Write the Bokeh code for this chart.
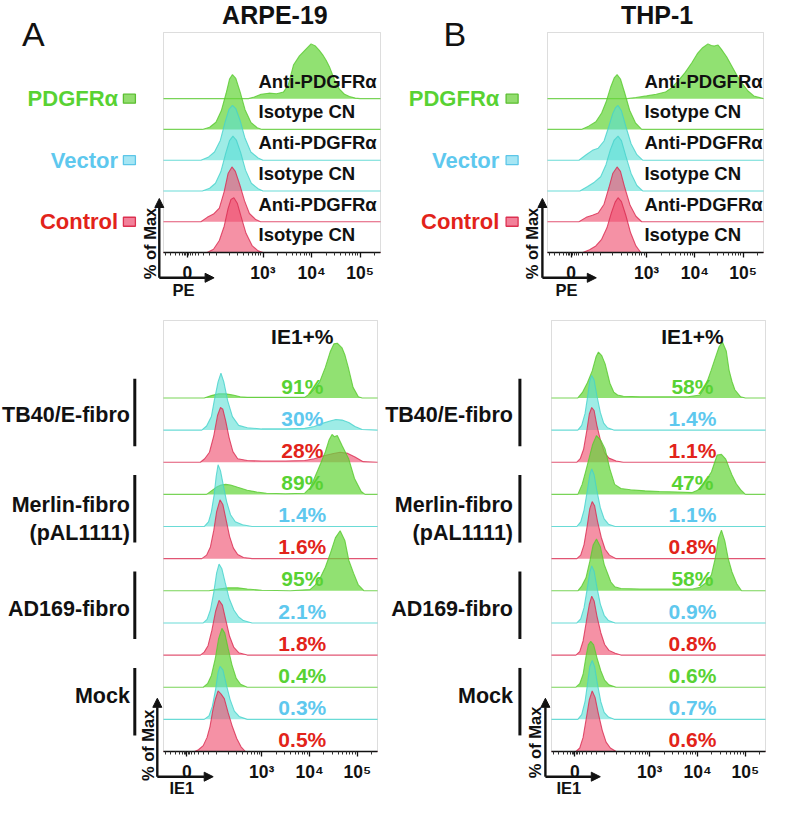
import numpy as np
from bokeh.plotting import figure
from bokeh.layouts import column, row
from bokeh.models import (ColumnDataSource, Label, Arrow, NormalHead, BoxAnnotation,
                          FixedTicker, Range1d)
from bokeh.embed import file_html
from bokeh.resources import INLINE

FONT = "Liberation Sans"

# ---------------------------------------------------------------- data
# x: position on the biexponential fluorescence axis, in decade display units
#    (10^3 -> 3, 10^4 -> 4, 10^5 -> 5, "0" -> 1.44); y: % of Max
AXIS_MIN, AXIS_MAX = 0.95, 5.42
TICK_POS = [1.44, 3.0, 4.0, 5.0]
TICK_LABELS = ["0", "10³", "10⁴", "10⁵"]

# ---- PE staining (rows from bottom to top)
PE_GROUPS = ["Control", "Vector", "PDGFRα"]
PE_STAINS = ["Isotype CN", "Anti-PDGFRα"]
PE_ROW_COLORS = ["red", "red", "cyan", "cyan", "green", "green"]

ARPE_PE_X = [
    [0.95, 1.85, 1.98, 2.10, 2.20, 2.28, 2.34, 2.40, 2.47, 2.55, 2.65, 2.78, 2.90, 3.00, 5.42],
    [0.95, 1.72, 1.85, 1.98, 2.10, 2.20, 2.28, 2.36, 2.43, 2.52, 2.62, 2.72, 2.85, 2.95, 5.42],
    [0.95, 1.75, 1.90, 2.02, 2.13, 2.23, 2.31, 2.38, 2.45, 2.54, 2.64, 2.76, 2.90, 3.00, 5.42],
    [0.95, 1.72, 1.88, 2.00, 2.12, 2.22, 2.30, 2.37, 2.44, 2.53, 2.63, 2.75, 2.90, 3.00, 5.42],
    [0.95, 1.75, 1.90, 2.03, 2.14, 2.24, 2.31, 2.37, 2.44, 2.53, 2.63, 2.75, 2.88, 2.98, 5.42],
    [0.95, 2.70, 2.82, 2.96, 3.12, 3.28, 3.42, 3.52, 3.63, 3.75, 3.88, 3.99, 4.08, 4.16, 4.23,
     4.30, 4.37, 4.47, 4.57, 4.68, 4.78, 4.90, 5.00, 5.42],
]
ARPE_PE_Y = [
    [0, 0, 6, 22, 48, 80, 97, 100, 90, 65, 35, 12, 3, 0, 0],
    [0, 0, 8, 14, 25, 55, 88, 100, 92, 68, 38, 15, 4, 0, 0],
    [0, 0, 5, 14, 35, 68, 92, 100, 93, 70, 38, 14, 4, 0, 0],
    [0, 0, 6, 15, 36, 70, 93, 100, 94, 72, 40, 15, 4, 0, 0],
    [0, 0, 4, 13, 34, 66, 92, 100, 93, 68, 36, 13, 3, 0, 0],
    [0, 0, 3, 8, 10, 9, 12, 25, 62, 78, 90, 100, 96, 88, 80, 70, 58, 35, 18, 8, 4, 1, 0, 0],
]

THP_PE_X = [
    [0.95, 1.68, 1.82, 1.95, 2.07, 2.18, 2.27, 2.35, 2.41, 2.48, 2.57, 2.67, 2.78, 2.88, 5.42],
    [0.95, 1.60, 1.75, 1.88, 2.00, 2.12, 2.22, 2.30, 2.39, 2.46, 2.55, 2.66, 2.78, 2.90, 5.42],
    [0.95, 1.62, 1.78, 1.92, 2.05, 2.16, 2.25, 2.33, 2.41, 2.48, 2.57, 2.68, 2.80, 2.92, 5.42],
    [0.95, 1.60, 1.75, 1.88, 2.00, 2.12, 2.22, 2.30, 2.36, 2.41, 2.48, 2.57, 2.68, 2.80, 2.92, 5.42],
    [0.95, 1.65, 1.80, 1.95, 2.07, 2.17, 2.26, 2.33, 2.39, 2.46, 2.55, 2.65, 2.77, 2.90, 5.42],
    [0.95, 2.60, 2.78, 3.00, 3.20, 3.39, 3.52, 3.65, 3.80, 3.94, 4.05, 4.16, 4.27, 4.34, 4.40,
     4.48, 4.55, 4.66, 4.76, 4.86, 4.96, 5.10, 5.22, 5.42],
]
THP_PE_Y = [
    [0, 0, 5, 12, 24, 45, 72, 92, 100, 93, 68, 36, 12, 0, 0],
    [0, 0, 8, 12, 16, 32, 62, 88, 100, 92, 62, 30, 10, 0, 0],
    [0, 0, 8, 16, 26, 48, 75, 93, 100, 92, 64, 32, 10, 0, 0],
    [0, 0, 10, 18, 22, 35, 62, 85, 96, 100, 90, 62, 30, 10, 0, 0],
    [0, 0, 6, 14, 30, 52, 78, 94, 100, 92, 66, 35, 12, 0, 0],
    [0, 0, 2, 5, 8, 12, 20, 32, 48, 66, 82, 93, 100, 97, 96, 98, 90, 76, 60, 44, 30, 14, 5, 0],
]

# ---- IE1 staining (rows from bottom to top: Control, Vector, PDGFRα per infection)
IE1_GROUPS = ["Mock", "AD169-fibro", "Merlin-fibro", "TB40/E-fibro"]
IE1_GROUP_SUB = ["", "", "(pAL1111)", ""]
IE1_ROW_COLORS = ["red", "cyan", "green"] * 4
ARPE_IE1_PCT = ["0.5%", "0.3%", "0.4%", "1.8%", "2.1%", "95%",
                "1.6%", "1.4%", "89%", "28%", "30%", "91%"]
THP_IE1_PCT = ["0.6%", "0.7%", "0.6%", "0.8%", "0.9%", "58%",
               "0.8%", "1.1%", "47%", "1.1%", "1.4%", "58%"]

ARPE_IE1_X = [
    [0.95, 1.60, 1.68, 1.78, 1.86, 1.92, 1.98, 2.03, 2.09, 2.15, 2.22, 2.30, 2.39, 2.48, 2.57, 2.66, 5.42],
    [0.95, 1.80, 1.90, 1.97, 2.04, 2.09, 2.13, 2.19, 2.26, 2.34, 2.43, 2.53, 2.70, 5.42],
    [0.95, 1.78, 1.87, 1.95, 2.03, 2.10, 2.17, 2.23, 2.30, 2.38, 2.47, 2.56, 2.70, 5.42],
    [0.95, 1.72, 1.80, 1.88, 1.96, 2.04, 2.11, 2.18, 2.25, 2.33, 2.42, 2.52, 2.70, 5.42],
    [0.95, 1.78, 1.86, 1.93, 2.00, 2.06, 2.11, 2.17, 2.24, 2.32, 2.42, 2.52, 2.62, 2.80, 5.42],
    [0.95, 1.90, 2.10, 2.30, 2.50, 2.70, 3.00, 3.60, 4.01, 4.12, 4.23, 4.33, 4.44, 4.54, 4.64,
     4.74, 4.82, 4.92, 5.02, 5.14, 5.42],
    [0.95, 1.75, 1.85, 1.93, 2.00, 2.06, 2.13, 2.19, 2.26, 2.33, 2.41, 2.50, 2.62, 2.80, 5.42],
    [0.95, 1.80, 1.89, 1.95, 2.01, 2.05, 2.09, 2.14, 2.20, 2.27, 2.35, 2.45, 2.60, 2.80, 5.42],
    [0.95, 1.85, 1.95, 2.05, 2.15, 2.25, 2.35, 2.50, 2.70, 2.90, 3.10, 3.50, 3.90, 4.02, 4.13,
     4.23, 4.33, 4.41, 4.47, 4.52, 4.58, 4.68, 4.82, 4.94, 5.08, 5.16, 5.42],
    [0.95, 1.72, 1.81, 1.91, 2.00, 2.08, 2.14, 2.19, 2.25, 2.32, 2.40, 2.50, 2.70, 3.00, 3.50,
     3.90, 4.10, 4.30, 4.50, 4.64, 4.80, 4.95, 5.12, 5.42],
    [0.95, 1.75, 1.85, 1.95, 2.01, 2.09, 2.15, 2.21, 2.29, 2.39, 2.52, 2.70, 3.00, 3.50, 3.90,
     4.10, 4.25, 4.41, 4.55, 4.68, 4.82, 4.95, 5.10, 5.42],
    [0.95, 1.80, 1.95, 2.10, 2.25, 2.40, 2.55, 2.70, 3.90, 4.00, 4.10, 4.21, 4.33, 4.43, 4.51,
     4.58, 4.68, 4.74, 4.81, 4.91, 5.02, 5.10, 5.42],
]
ARPE_IE1_Y = [
    [0, 0, 3, 10, 24, 42, 70, 88, 103, 98, 90, 66, 42, 22, 8, 0, 0],
    [0, 0, 6, 22, 52, 80, 90, 84, 60, 34, 14, 5, 0, 0],
    [0, 0, 6, 20, 48, 82, 100, 92, 66, 38, 15, 5, 0, 0],
    [0, 0, 5, 16, 42, 75, 93, 85, 60, 32, 13, 4, 0, 0],
    [0, 0, 6, 22, 52, 85, 100, 92, 68, 42, 22, 10, 4, 0, 0],
    [0, 0, 3, 5, 5, 3, 1, 0, 2, 10, 23, 40, 65, 90, 102, 85, 52, 30, 10, 0, 0],
    [0, 0, 6, 20, 48, 80, 100, 92, 65, 38, 18, 7, 2, 0, 0],
    [0, 0, 8, 25, 55, 85, 105, 95, 70, 42, 20, 8, 3, 0, 0],
    [0, 0, 6, 12, 16, 17, 16, 12, 7, 4, 2, 1, 2, 12, 33, 52, 72, 93, 102, 98, 100, 83, 60, 27, 5, 0, 0],
    [0, 0, 6, 17, 45, 80, 93, 90, 70, 42, 18, 6, 3, 2, 2, 3, 6, 11, 15, 17, 15, 9, 1, 0],
    [0, 0, 7, 23, 50, 82, 97, 82, 50, 23, 8, 4, 2, 2, 3, 6, 11, 15, 18, 17, 13, 6, 1, 0],
    [0, 0, 4, 7, 7, 5, 2, 1, 1, 7, 15, 27, 52, 78, 92, 93, 85, 73, 52, 18, 2, 0, 0],
]

THP_IE1_X = [
    [0.95, 1.46, 1.54, 1.61, 1.68, 1.74, 1.80, 1.86, 1.93, 2.01, 2.09, 2.18, 2.30, 5.42],
    [0.95, 1.50, 1.58, 1.65, 1.71, 1.75, 1.80, 1.85, 1.91, 1.98, 2.05, 2.14, 2.26, 5.42],
    [0.95, 1.46, 1.54, 1.61, 1.67, 1.72, 1.77, 1.83, 1.90, 1.98, 2.06, 2.15, 2.30, 5.42],
    [0.95, 1.46, 1.54, 1.61, 1.68, 1.74, 1.79, 1.84, 1.90, 1.98, 2.06, 2.15, 2.28, 2.40, 5.42],
    [0.95, 1.48, 1.56, 1.63, 1.70, 1.75, 1.79, 1.84, 1.90, 1.97, 2.05, 2.14, 2.28, 5.42],
    [0.95, 1.50, 1.58, 1.67, 1.75, 1.82, 1.89, 1.97, 2.05, 2.19, 2.27, 2.40, 2.80, 3.40, 3.90,
     4.05, 4.18, 4.29, 4.37, 4.44, 4.50, 4.57, 4.64, 4.72, 4.82, 4.92, 5.42],
    [0.95, 1.48, 1.56, 1.63, 1.70, 1.75, 1.80, 1.85, 1.91, 1.99, 2.07, 2.16, 2.30, 5.42],
    [0.95, 1.48, 1.56, 1.63, 1.70, 1.75, 1.79, 1.84, 1.90, 1.97, 2.05, 2.14, 2.28, 5.42],
    [0.95, 1.50, 1.59, 1.66, 1.73, 1.81, 1.89, 1.98, 2.07, 2.17, 2.27, 2.40, 2.60, 2.90, 3.20,
     3.60, 3.89, 4.00, 4.11, 4.20, 4.29, 4.41, 4.50, 4.59, 4.66, 4.72, 4.81, 4.90, 5.00, 5.42],
    [0.95, 1.48, 1.55, 1.62, 1.69, 1.74, 1.79, 1.84, 1.90, 1.98, 2.06, 2.15, 2.30, 2.45, 5.42],
    [0.95, 1.50, 1.58, 1.65, 1.71, 1.75, 1.79, 1.84, 1.90, 1.97, 2.04, 2.12, 2.25, 5.42],
    [0.95, 1.50, 1.60, 1.70, 1.80, 1.88, 1.93, 2.00, 2.07, 2.17, 2.25, 2.33, 2.45, 2.80, 3.30,
     3.80, 4.05, 4.13, 4.21, 4.28, 4.35, 4.45, 4.52, 4.60, 4.66, 4.72, 4.78, 4.90, 5.00, 5.42],
]
THP_IE1_Y = [
    [0, 0, 6, 24, 58, 88, 103, 92, 64, 36, 16, 6, 0, 0],
    [0, 0, 8, 30, 65, 90, 100, 90, 60, 30, 12, 4, 0, 0],
    [0, 0, 6, 22, 52, 72, 78, 72, 50, 28, 12, 4, 0, 0],
    [0, 0, 6, 24, 58, 86, 100, 92, 66, 38, 18, 8, 3, 0, 0],
    [0, 0, 7, 26, 60, 86, 97, 88, 60, 32, 13, 4, 0, 0],
    [0, 0, 8, 22, 50, 78, 88, 75, 45, 15, 7, 4, 3, 3, 3, 6, 14, 27, 55, 90, 103, 85, 55, 32, 12, 0, 0],
    [0, 0, 6, 24, 58, 85, 97, 90, 64, 36, 16, 6, 0, 0],
    [0, 0, 8, 28, 62, 88, 98, 88, 60, 32, 13, 4, 0, 0],
    [0, 0, 17, 38, 60, 85, 100, 92, 77, 43, 17, 10, 8, 6, 5, 4, 3, 7, 17, 27, 38, 67, 68, 60, 45, 33,
     18, 8, 0, 0],
    [0, 0, 6, 22, 55, 82, 93, 88, 62, 35, 16, 7, 2, 0, 0],
    [0, 0, 8, 28, 60, 84, 93, 85, 58, 30, 12, 4, 0, 0],
    [0, 0, 10, 26, 46, 70, 78, 72, 58, 25, 10, 5, 3, 2, 2, 2, 5, 15, 30, 46, 63, 87, 95, 80, 47, 28,
     14, 2, 0, 0],
]

# ---------------------------------------------------------------- style
COL = {
    "green": dict(fill="#66d63c", line="#57c92e", text="#58d233", sq_fill="#93dd6f", sq_line="#5bbf30"),
    "cyan": dict(fill="#58ded4", line="#45d2cc", text="#5ec8ee", sq_fill="#a6e6f4", sq_line="#5cc6e8"),
    "red": dict(fill="#ef4d6e", line="#d92a50", text="#e2231a", sq_fill="#f2819a", sq_line="#dc3050"),
}
FILL_ALPHA = {"green": 0.72, "cyan": 0.58, "red": 0.62}

MINOR = sorted([1.0, 1.1, 1.2, 1.28, 1.34, 1.38, 1.41, 1.47, 1.5, 1.54, 1.6, 1.68, 1.78, 1.9, 2.05]
               + [float(np.log10(k * 10.0 ** n)) for n in (2, 3, 4) for k in range(2, 10)]
               + [float(np.log10(2e5))])


def base_fig(W, H, L, R, T, B, row_px):
    ytop = (B - T) / row_px
    sx = (AXIS_MAX - AXIS_MIN) / (R - L)
    sy = ytop / (B - T)
    p = figure(width=W, height=H,
               x_range=Range1d(AXIS_MIN - L * sx, AXIS_MAX + (W - R) * sx),
               y_range=Range1d(-(H - B) * sy, ytop + T * sy),
               output_backend="svg", toolbar_location=None, min_border=0,
               y_axis_location=None, x_axis_location="below")
    p.outline_line_color = None
    p.grid.visible = False
    p.background_fill_color = "white"
    p.border_fill_color = "white"
    ax = p.xaxis[0]
    ax.fixed_location = 0
    ax.bounds = (AXIS_MIN, AXIS_MAX)
    ax.ticker = FixedTicker(ticks=TICK_POS, minor_ticks=MINOR)
    ax.major_label_overrides = {t: s for t, s in zip(TICK_POS, TICK_LABELS)}
    ax.axis_line_color = "#111111"
    ax.axis_line_width = 1.4
    ax.major_tick_line_color = "#111111"
    ax.major_tick_line_width = 1.3
    ax.major_tick_out = 5
    ax.major_tick_in = 0
    ax.minor_tick_line_color = "#333333"
    ax.minor_tick_out = 3
    ax.minor_tick_in = 0
    ax.major_label_standoff = 5
    ax.major_label_text_font = FONT
    ax.major_label_text_font_style = "bold"
    ax.major_label_text_font_size = "17.5px"
    ax.major_label_text_color = "#111111"
    box = BoxAnnotation(left=AXIS_MIN, right=AXIS_MAX, bottom=0, top=ytop,
                        fill_color=None, line_color="#8e8e8e", line_width=1, level="underlay")
    p.add_layout(box)

    def fx(u):
        return AXIS_MIN + (u - L) * sx

    def fy(v):
        return ytop - (v - T) * sy

    return p, fx, fy


def label(p, x, y, text, size, color="#111111", align="left", bold=True, angle=0.0):
    p.add_layout(Label(x=x, y=y, text=text, text_font=FONT, text_font_size=f"{size}px",
                       text_font_style="bold" if bold else "normal", text_color=color,
                       text_align=align, text_baseline="middle", angle=angle))


def draw_curves(p, xs, ys, colors, peak):
    for i in reversed(range(len(xs))):
        c = COL[colors[i]]
        x = np.array(xs[i], dtype=float)
        y = i + np.array(ys[i], dtype=float) / 100.0 * peak
        src = ColumnDataSource(dict(x=x, y=y, b=np.full(len(x), float(i))))
        p.varea(x="x", y1="b", y2="y", source=src, fill_color=c["fill"],
                fill_alpha=FILL_ALPHA[colors[i]])
        p.line(x="x", y="y", source=src, line_color=c["line"], line_width=1.1, line_alpha=0.8)


def axis_arrows(p, fx, fy, x0, y0, y1, x1, name, name_x, name_y, pom_x, pom_y):
    for xs, ys, xe, ye in [(x0, y0, x0, y1), (x0, y0, x1, y0)]:
        p.add_layout(Arrow(end=NormalHead(size=9, fill_color="#111111", line_color="#111111"),
                           x_start=fx(xs), y_start=fy(ys), x_end=fx(xe), y_end=fy(ye),
                           line_width=2.4, line_color="#111111"))
    label(p, fx(name_x), fy(name_y), name, 16.5, align="center")
    label(p, fx(pom_x), fy(pom_y), "% of Max", 16.5, align="center", angle=np.pi / 2)


def pe_panel(xs, ys, title, letter, g):
    p, fx, fy = base_fig(g["W"], 300, g["L"], g["R"], 32, 252, 30.77)
    draw_curves(p, xs, ys, PE_ROW_COLORS, 1.78)
    label(p, fx(g["letter_x"]), fy(33), letter, 34, bold=False)
    label(p, fx(g["title_x"]), fy(14), title, 25, align="center")
    for k, grp in enumerate(PE_GROUPS):
        r = 2 * k + 1
        c = COL[PE_ROW_COLORS[r]]
        label(p, fx(g["grp_x"]), r, grp, 22, color=c["text"], align="right")
        p.rect(x=[fx(g["sq_x"])], y=[r], width=12, height=9, width_units="screen",
               height_units="screen", fill_color=c["sq_fill"], line_color=c["sq_line"], line_width=1.3)
    for r in range(len(xs)):
        label(p, fx(g["lab_x"]), r + 0.57, PE_STAINS[r % 2], 18.5)
    axis_arrows(p, fx, fy, g["arr_x"], 277.3, 198, g["arr_x1"], "PE", g["name_x"], 289.6,
                g["pom_x"], 243)
    return p


def ie1_panel(xs, ys, pcts, g):
    p, fx, fy = base_fig(g["W"], 502, g["L"], g["R"], 20, 451, 32.14)
    draw_curves(p, xs, ys, IE1_ROW_COLORS, 1.83)
    for r in range(len(xs)):
        label(p, fx(g["pct_x"]), r + 0.37, pcts[r], 21, color=COL[IE1_ROW_COLORS[r]]["text"],
              align="center")
    label(p, fx(g["pct_x"]), len(xs) - 1 + 1.91, "IE1+%", 21, align="center")
    dys = [1.73, 1.44, 1.67, 1.46]
    for k, grp in enumerate(IE1_GROUPS):
        base = 3 * k
        p.segment(x0=[fx(g["bar_x"])], y0=[base + 0.5], x1=[fx(g["bar_x"])], y1=[base + 2.6],
                  line_color="#111111", line_width=3)
        label(p, fx(g["grp_x"]), base + dys[k], grp, 21.5, align="right")
        if IE1_GROUP_SUB[k]:
            label(p, fx(g["grp_x"]), base + 0.80, IE1_GROUP_SUB[k], 21.5, align="right")
    axis_arrows(p, fx, fy, g["arr_x"], 476.2, 397.8, g["arr_x1"], "IE1", g["name_x"], 487.4,
                g["pom_x"], g["pom_y"])
    return p


TL = dict(W=383, L=163, R=380, letter_x=21.6, title_x=274.4, grp_x=117.6, sq_x=128.9, lab_x=258,
          arr_x=158.8, arr_x1=213.6, name_x=183, pom_x=149)
TR = dict(W=387, L=164, R=380, letter_x=60, title_x=273.6, grp_x=115.8, sq_x=128.6, lab_x=260.9,
          arr_x=158.9, arr_x1=212.8, name_x=183, pom_x=148.2)
BL = dict(W=383, L=163, R=377, bar_x=134.3, grp_x=129.4, pct_x=301.8, arr_x=156.8, arr_x1=212.7,
          name_x=181.3, pom_x=147, pom_y=444.8)
BR = dict(W=387, L=168, R=382, bar_x=136.4, grp_x=129.5, pct_x=308.9, arr_x=161.9, arr_x1=216.8,
          name_x=185.4, pom_x=151.1, pom_y=441.9)

p_tl = pe_panel(ARPE_PE_X, ARPE_PE_Y, "ARPE-19", "A", TL)
p_tr = pe_panel(THP_PE_X, THP_PE_Y, "THP-1", "B", TR)
p_bl = ie1_panel(ARPE_IE1_X, ARPE_IE1_Y, ARPE_IE1_PCT, BL)
p_br = ie1_panel(THP_IE1_X, THP_IE1_Y, THP_IE1_PCT, BR)

layout = column(row(p_tl, p_tr), row(p_bl, p_br))
open("out.html", "w").write(file_html(layout, INLINE, "PDGFRα flow cytometry"))
